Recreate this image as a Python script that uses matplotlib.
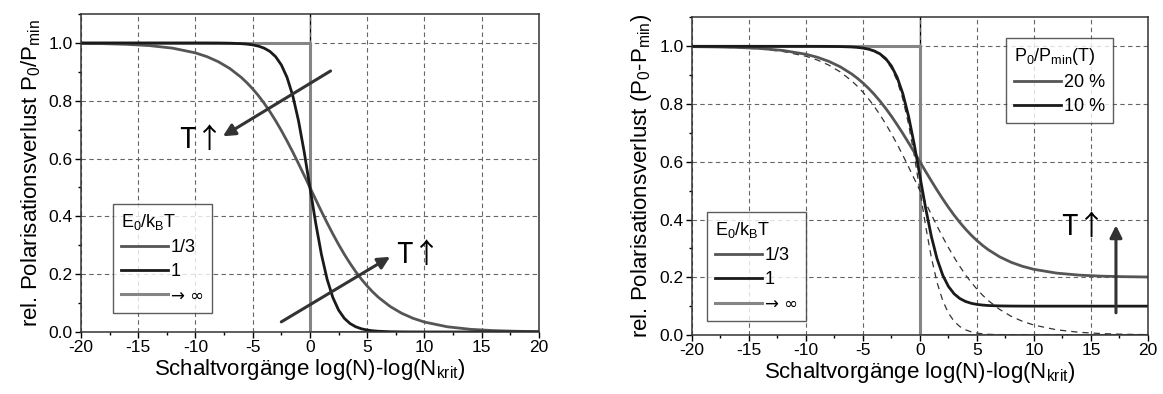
import numpy as np
import matplotlib
matplotlib.use('Agg')
import matplotlib.pyplot as plt
from matplotlib.ticker import MultipleLocator

plt.rcParams['font.family'] = ['Liberation Sans', 'DejaVu Sans']
plt.rcParams['mathtext.fontset'] = 'custom'
plt.rcParams['mathtext.rm'] = 'Liberation Sans'
plt.rcParams['mathtext.it'] = 'Liberation Sans:italic'
plt.rcParams['mathtext.bf'] = 'Liberation Sans:bold'
plt.rcParams['axes.unicode_minus'] = False

# ---- data ----
x_pts = [-20, -18, -16, -14, -12, -10, -9, -8, -7, -6, -5.5, -5, -4.5, -4, -3.5, -3, -2.5, -2,
         -1.5, -1, -0.5, 0, 0.5, 1, 1.5, 2, 2.5, 3, 3.5, 4, 4.5, 5, 5.5, 6, 7, 8, 9, 10,
         12, 14, 16, 18, 20]

# E0/kBT = 1/3 (normalised)
y_third = [0.9987, 0.9975, 0.9952, 0.9907, 0.9820, 0.9656, 0.9526, 0.9350, 0.9116, 0.8808,
           0.8621, 0.8411, 0.8176, 0.7914, 0.7625, 0.7311, 0.6971, 0.6608, 0.6225, 0.5826,
           0.5416, 0.5000, 0.4584, 0.4174, 0.3775, 0.3392, 0.3029, 0.2689, 0.2375, 0.2086,
           0.1824, 0.1589, 0.1379, 0.1192, 0.0884, 0.0650, 0.0474, 0.0344, 0.0180, 0.0093,
           0.0048, 0.0025, 0.0013]

# E0/kBT = 1 (normalised)
y_one = [1.0, 1.0, 1.0, 1.0, 1.0, 1.0, 0.9999, 0.9997, 0.9991, 0.9975,
         0.9959, 0.9933, 0.9890, 0.9820, 0.9707, 0.9526, 0.9241, 0.8808, 0.8176, 0.7311,
         0.6225, 0.5000, 0.3775, 0.2689, 0.1824, 0.1192, 0.0759, 0.0474, 0.0293, 0.0180,
         0.0110, 0.0067, 0.0041, 0.0025, 0.0009, 0.0003, 0.0001, 0.0, 0.0, 0.0,
         0.0, 0.0, 0.0]

# right panel: residual polarisation 20 % and 10 %
y_20 = [0.9990, 0.9980, 0.9962, 0.9926, 0.9856, 0.9725, 0.9621, 0.9480, 0.9293, 0.9046,
        0.8897, 0.8729, 0.8541, 0.8331, 0.8100, 0.7849, 0.7577, 0.7286, 0.6980, 0.6661,
        0.6333, 0.6000, 0.5667, 0.5339, 0.5020, 0.4714, 0.4423, 0.4151, 0.3900, 0.3669,
        0.3459, 0.3271, 0.3103, 0.2954, 0.2707, 0.2520, 0.2379, 0.2275, 0.2144, 0.2074,
        0.2038, 0.2020, 0.2010]

y_10 = [1.0, 1.0, 1.0, 1.0, 1.0, 1.0, 0.9999, 0.9997, 0.9992, 0.9978,
        0.9963, 0.9940, 0.9901, 0.9838, 0.9736, 0.9573, 0.9317, 0.8927, 0.8358, 0.7580,
        0.6603, 0.5500, 0.4398, 0.3420, 0.2642, 0.2073, 0.1683, 0.1427, 0.1264, 0.1162,
        0.1099, 0.1060, 0.1037, 0.1022, 0.1008, 0.1003, 0.1001, 0.1, 0.1, 0.1,
        0.1, 0.1, 0.1]

# E0/kBT -> infinity: step
x_step = [-20, 0, 0, 20]
y_step = [1, 1, 0, 0]

leg_left = ['1/3', '1', '\u2192 \u221e']
leg_right = ['20 %', '10 %']

c_gray = '#555555'
c_black = '#1a1a1a'
c_light = '#858585'

fig = plt.figure(figsize=(11.63, 3.94), dpi=100)
ax1 = fig.add_axes([0.0696, 0.1574, 0.3938, 0.807])
ax2 = fig.add_axes([0.595, 0.1497, 0.392, 0.806])

xlab = r'Schaltvorgänge log(N)-log(N$_\mathrm{krit}$)'
arrow = dict(arrowstyle='-|>', color='#333333', lw=2.2, mutation_scale=18, shrinkA=0, shrinkB=0)


def style(ax):
    ax.set_xlim(-20, 20)
    ax.set_ylim(0, 1.1)
    ax.xaxis.set_major_locator(MultipleLocator(5))
    ax.xaxis.set_minor_locator(MultipleLocator(2.5))
    ax.yaxis.set_minor_locator(MultipleLocator(0.1))
    ax.set_yticks(np.arange(0, 1.01, 0.2))
    ax.yaxis.set_major_formatter(plt.FormatStrFormatter('%.1f'))
    ax.tick_params(direction='out', labelsize=12.5, length=4, width=1, pad=2)
    ax.tick_params(which='minor', direction='out', length=2.5, width=1)
    ax.grid(True, which='major', ls=(0, (4, 3)), color='#666666', lw=0.8)
    for s in ax.spines.values():
        s.set_color('#333333')
        s.set_linewidth(1.1)
    ax.axvline(0, color='k', lw=1, zorder=1.5)
    ax.set_xlabel(xlab, fontsize=16, labelpad=1)


def make_legend(ax, handles, labels, title, loc, anchor):
    lg = ax.legend(handles, labels, title=title, loc=loc, bbox_to_anchor=anchor,
                   borderaxespad=0, fontsize=13, title_fontsize=13, handlelength=2.6,
                   handletextpad=0.15, labelspacing=0.38, borderpad=0.45,
                   fancybox=False, alignment='left')
    lg.get_frame().set_edgecolor('#333333')
    lg.get_frame().set_linewidth(1.0)
    for t in lg.get_texts():
        if '\u221e' in t.get_text():
            t.set_fontfamily(['DejaVu Sans'])
            t.set_fontsize(12)
    return lg


def t_up(ax, x, y):
    # "T" with a tall thin arrow
    ax.text(x, y, 'T\u2191', fontsize=20, ha='center', va='center',
            family=['Noto Sans CJK SC', 'DejaVu Sans'])


# ---- left panel ----
style(ax1)
l1, = ax1.plot(x_pts, y_third, color=c_gray, lw=2)
l2, = ax1.plot(x_pts, y_one, color=c_black, lw=2)
l3, = ax1.plot(x_step, y_step, color=c_light, lw=2.2, zorder=1.8)
ax1.set_ylabel(r'rel. Polarisationsverlust P$_\mathrm{0}$/P$_\mathrm{min}$', fontsize=16, labelpad=4)
make_legend(ax1, [l1, l2, l3], leg_left, r'E$_\mathrm{0}$/k$_\mathrm{B}$T', 'lower left', (0.07, 0.06))

ax1.annotate('', xy=(-7.6, 0.677), xytext=(1.8, 0.903), arrowprops=arrow)
ax1.annotate('', xy=(7.0, 0.26), xytext=(-2.5, 0.035), arrowprops=arrow)
t_up(ax1, -9.5, 0.663)
t_up(ax1, 9.5, 0.266)

# ---- right panel ----
style(ax2)
ax2.plot(x_pts, y_third, color='#333333', lw=0.9, ls=(0, (5, 4)))
ax2.plot(x_pts, y_one, color='#333333', lw=0.9, ls=(0, (5, 4)))
r1, = ax2.plot(x_pts, y_20, color=c_gray, lw=2)
r2, = ax2.plot(x_pts, y_10, color=c_black, lw=2)
r3, = ax2.plot(x_step, y_step, color=c_light, lw=2.2, zorder=1.8)
ax2.set_ylabel(r'rel. Polarisationsverlust (P$_\mathrm{0}$-P$_\mathrm{min}$)', fontsize=16, labelpad=4)
leg2 = make_legend(ax2, [r1, r2, r3], leg_left, r'E$_\mathrm{0}$/k$_\mathrm{B}$T', 'lower left', (0.033, 0.044))
ax2.add_artist(leg2)
make_legend(ax2, [r1, r2], leg_right, r'P$_\mathrm{0}$/P$_\mathrm{min}$(T)', 'upper right', (0.923, 0.935))

ax2.annotate('', xy=(17.2, 0.38), xytext=(17.2, 0.077), arrowprops=arrow)
t_up(ax2, 14.3, 0.375)

fig.savefig('out.png', dpi=100)
